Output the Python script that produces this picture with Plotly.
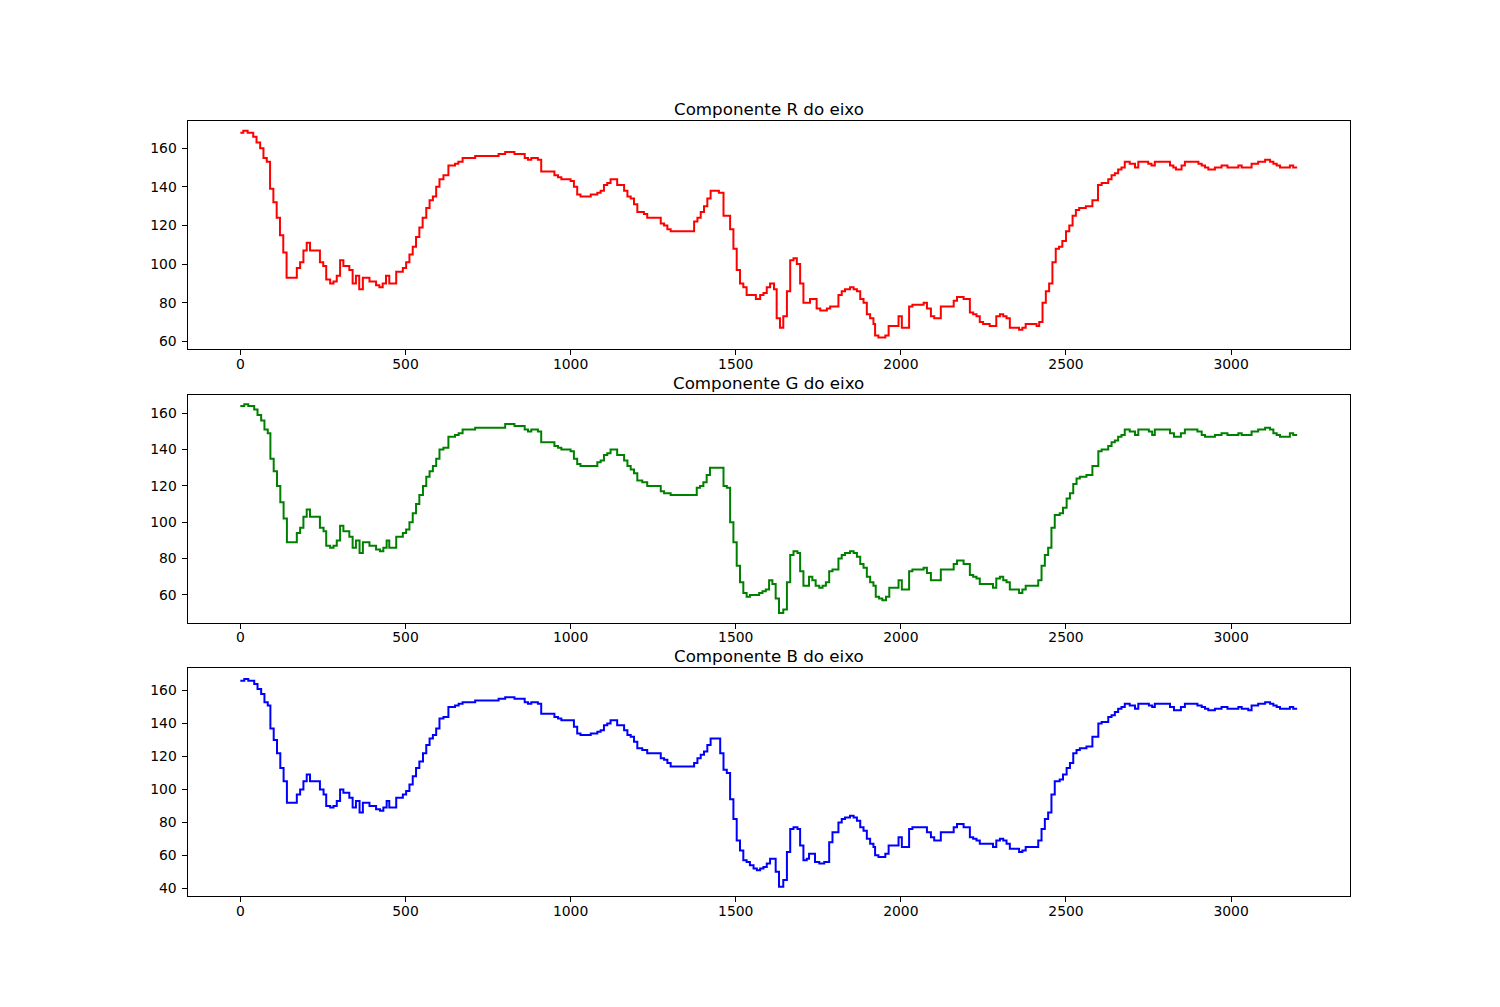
import plotly.graph_objects as go

# step break points (x where each level starts)
x_r = [0, 9, 22, 39, 49, 60, 70, 80, 90, 100, 110, 120, 130, 140, 171, 181, 191, 201, 211, 241,
       251, 260, 272, 282, 292, 302, 312, 330, 340, 350, 360, 371, 391, 411, 421, 431, 441, 451, 472, 492,
       502, 512, 522, 532, 542, 552, 563, 573, 583, 593, 603, 615, 630, 650, 660, 673, 711, 782, 802, 830,
       861, 871, 881, 901, 911, 951, 962, 972, 1000, 1010, 1020, 1030, 1061, 1081, 1091, 1101, 1111, 1121, 1141, 1162,
       1172, 1182, 1192, 1202, 1222, 1232, 1273, 1283, 1293, 1303, 1374, 1384, 1394, 1404, 1414, 1424, 1449, 1463, 1483, 1493,
       1503, 1513, 1523, 1533, 1561, 1574, 1584, 1594, 1604, 1616, 1624, 1634, 1644, 1655, 1665, 1675, 1685, 1695, 1705, 1725,
       1745, 1756, 1776, 1786, 1811, 1821, 1831, 1846, 1857, 1867, 1877, 1887, 1897, 1907, 1917, 1922, 1932, 1953, 1963, 1993,
       2003, 2025, 2035, 2069, 2079, 2091, 2101, 2121, 2160, 2170, 2190, 2209, 2219, 2229, 2239, 2249, 2269, 2289, 2300, 2310,
       2320, 2330, 2358, 2368, 2378, 2411, 2419, 2429, 2439, 2449, 2459, 2469, 2479, 2489, 2500, 2510, 2520, 2530, 2540, 2560,
       2580, 2597, 2608, 2628, 2638, 2648, 2658, 2668, 2678, 2693, 2709, 2719, 2749, 2759, 2769, 2815, 2825, 2833, 2850, 2860,
       2901, 2911, 2921, 2931, 2951, 2971, 2989, 3022, 3032, 3062, 3082, 3103, 3118, 3128, 3138, 3148, 3178, 3188, 3200]
r_vals = [168, 169, 168, 166, 163, 160, 155, 153, 139, 132, 124, 115, 106, 93, 98, 101, 107, 111, 107, 101,
          99, 92, 90, 91, 94, 102, 99, 97, 90, 94, 87, 93, 91, 89, 88, 90, 94, 90, 96, 98,
          101, 105, 109, 114, 119, 124, 129, 133, 135, 140, 144, 146, 151, 152, 153, 155, 156, 157, 158, 157,
          155, 154, 155, 154, 148, 146, 145, 144, 143, 140, 136, 135, 136, 137, 138, 141, 142, 144, 141, 138,
          135, 134, 131, 127, 126, 124, 121, 120, 118, 117, 122, 124, 127, 130, 134, 138, 137, 125, 118, 108,
          97, 90, 88, 84, 82, 84, 85, 88, 90, 87, 72, 67, 73, 86, 102, 103, 100, 90, 80, 82,
          77, 76, 77, 78, 84, 86, 87, 88, 87, 86, 82, 80, 74, 72, 69, 63, 62, 63, 68, 73,
          67, 78, 79, 80, 77, 73, 72, 78, 81, 83, 82, 75, 74, 73, 70, 69, 68, 73, 74, 73,
          72, 67, 66, 67, 69, 68, 70, 80, 86, 90, 101, 108, 109, 112, 117, 120, 125, 128, 129, 130,
          133, 141, 142, 144, 146, 147, 149, 150, 153, 152, 150, 153, 152, 151, 153, 151, 150, 149, 151, 153,
          152, 151, 150, 149, 150, 151, 150, 151, 150, 152, 153, 154, 153, 152, 151, 150, 151, 150, 150]

x_g = [0, 12, 24, 42, 52, 63, 73, 83, 91, 101, 111, 121, 131, 141, 171, 181, 191, 201, 211, 241,
       252, 260, 272, 282, 292, 302, 312, 330, 340, 350, 361, 371, 391, 411, 423, 433, 443, 451, 472, 492,
       502, 512, 522, 532, 542, 553, 563, 573, 583, 593, 603, 615, 630, 650, 661, 673, 711, 782, 802, 830,
       861, 871, 881, 901, 911, 951, 962, 972, 1000, 1010, 1020, 1030, 1061, 1081, 1091, 1101, 1111, 1121, 1141, 1162,
       1172, 1182, 1192, 1202, 1217, 1232, 1273, 1283, 1303, 1382, 1392, 1402, 1412, 1422, 1463, 1473, 1483, 1493, 1503, 1513,
       1523, 1533, 1543, 1571, 1581, 1591, 1601, 1611, 1621, 1631, 1644, 1655, 1665, 1675, 1687, 1695, 1705, 1722, 1732, 1742,
       1753, 1763, 1773, 1783, 1793, 1811, 1821, 1831, 1846, 1857, 1867, 1877, 1887, 1897, 1907, 1917, 1924, 1934, 1944, 1955,
       1965, 1993, 2003, 2025, 2035, 2069, 2079, 2091, 2121, 2160, 2170, 2190, 2209, 2219, 2229, 2239, 2279, 2289, 2300, 2310,
       2320, 2330, 2358, 2368, 2378, 2416, 2426, 2436, 2446, 2456, 2466, 2481, 2491, 2502, 2512, 2522, 2532, 2542, 2562, 2580,
       2598, 2608, 2628, 2638, 2648, 2658, 2668, 2678, 2693, 2709, 2719, 2751, 2761, 2769, 2815, 2827, 2848, 2860, 2898, 2911,
       2921, 2951, 2971, 2989, 3022, 3032, 3062, 3082, 3103, 3118, 3128, 3138, 3148, 3178, 3188, 3200]
g_vals = [164, 165, 164, 162, 159, 156, 151, 149, 135, 128, 120, 111, 102, 89, 94, 97, 103, 107, 103, 97,
          95, 87, 86, 87, 90, 98, 95, 92, 86, 90, 83, 89, 87, 85, 84, 86, 90, 86, 92, 94,
          96, 100, 105, 110, 115, 120, 125, 128, 131, 135, 140, 141, 147, 148, 149, 151, 152, 152, 154, 153,
          151, 150, 151, 150, 144, 142, 141, 140, 139, 135, 132, 131, 131, 133, 134, 137, 138, 140, 137, 134,
          131, 129, 127, 123, 122, 120, 117, 116, 115, 119, 120, 122, 126, 130, 120, 119, 100, 89, 76, 67,
          61, 59, 60, 61, 62, 63, 68, 66, 58, 50, 52, 67, 82, 84, 83, 73, 65, 70, 68, 65,
          64, 65, 67, 73, 74, 80, 82, 83, 84, 83, 81, 77, 75, 70, 67, 65, 59, 58, 57, 59,
          64, 68, 63, 73, 74, 75, 72, 68, 74, 77, 79, 77, 71, 70, 69, 66, 64, 69, 70, 68,
          67, 63, 61, 63, 65, 68, 76, 82, 86, 97, 104, 105, 108, 113, 116, 121, 124, 125, 126, 131,
          139, 140, 142, 144, 145, 147, 148, 151, 150, 148, 151, 150, 148, 151, 149, 147, 149, 151, 150, 148,
          147, 148, 149, 148, 149, 148, 150, 151, 152, 151, 149, 148, 147, 149, 148, 148]

x_b = [0, 12, 24, 42, 52, 63, 73, 83, 91, 101, 111, 121, 131, 141, 171, 181, 191, 201, 211, 241,
       252, 260, 272, 282, 292, 302, 312, 330, 340, 350, 361, 371, 391, 411, 423, 433, 443, 451, 472, 492,
       502, 512, 522, 532, 542, 553, 563, 573, 583, 593, 603, 615, 630, 650, 661, 673, 711, 782, 802, 830,
       861, 871, 881, 901, 911, 951, 962, 972, 1000, 1010, 1020, 1030, 1061, 1081, 1091, 1101, 1111, 1121, 1141, 1162,
       1172, 1182, 1192, 1202, 1217, 1232, 1273, 1283, 1293, 1303, 1374, 1384, 1394, 1404, 1414, 1424, 1453, 1463, 1473, 1483,
       1493, 1503, 1513, 1523, 1533, 1543, 1554, 1564, 1574, 1584, 1594, 1604, 1621, 1631, 1644, 1655, 1665, 1675, 1687, 1695,
       1705, 1715, 1722, 1740, 1753, 1768, 1783, 1793, 1811, 1821, 1831, 1846, 1857, 1867, 1877, 1887, 1897, 1907, 1917, 1922,
       1932, 1953, 1963, 1993, 2003, 2025, 2035, 2069, 2079, 2091, 2101, 2121, 2160, 2170, 2190, 2209, 2219, 2229, 2239, 2279,
       2289, 2300, 2310, 2320, 2330, 2358, 2368, 2378, 2416, 2426, 2436, 2446, 2456, 2466, 2481, 2491, 2502, 2512, 2522, 2532,
       2542, 2562, 2580, 2598, 2608, 2628, 2638, 2648, 2658, 2668, 2678, 2693, 2709, 2719, 2751, 2761, 2769, 2815, 2827, 2848,
       2860, 2898, 2911, 2921, 2931, 2951, 2971, 2989, 3022, 3032, 3052, 3062, 3082, 3103, 3118, 3128, 3138, 3148, 3178, 3188,
       3200]
b_vals = [166, 167, 166, 164, 161, 158, 153, 151, 137, 130, 122, 113, 105, 92, 97, 100, 105, 109, 105, 100,
          97, 90, 89, 90, 93, 100, 98, 95, 89, 93, 86, 92, 90, 88, 87, 89, 93, 89, 95, 97,
          99, 103, 108, 113, 117, 122, 127, 131, 133, 137, 143, 144, 150, 151, 152, 153, 154, 155, 156, 155,
          153, 152, 153, 152, 146, 144, 143, 142, 142, 138, 134, 133, 134, 135, 136, 139, 140, 142, 139, 136,
          133, 132, 129, 125, 124, 122, 119, 118, 116, 114, 116, 119, 121, 123, 127, 131, 122, 112, 110, 94,
          82, 69, 63, 57, 56, 54, 52, 51, 52, 53, 55, 58, 50, 41, 45, 62, 76, 77, 76, 66,
          57, 58, 61, 56, 55, 56, 68, 74, 80, 82, 83, 84, 83, 81, 77, 75, 70, 67, 65, 60,
          59, 61, 66, 71, 65, 76, 77, 77, 74, 71, 69, 74, 77, 79, 77, 71, 70, 69, 67, 65,
          69, 70, 69, 67, 64, 62, 63, 65, 69, 76, 82, 86, 97, 105, 106, 109, 113, 116, 122, 124,
          125, 126, 132, 140, 141, 144, 145, 147, 149, 150, 152, 151, 149, 152, 151, 150, 152, 150, 148, 150,
          152, 151, 150, 149, 148, 149, 150, 149, 150, 149, 148, 151, 152, 153, 152, 151, 150, 149, 150, 149,
          149]

titles = ["Componente R do eixo", "Componente G do eixo", "Componente B do eixo"]
colors = ["#ff0000", "#008000", "#0000ff"]
x_ticks = [0, 500, 1000, 1500, 2000, 2500, 3000]

# page body has an 8px margin, so the figure box is 1492x999 starting at (8, 8);
# domains below put the axes where matplotlib's default grid puts them
panels = [
    (x_r, r_vals, [0.65876, 0.88709], [56.1, 174.2]),
    (x_g, g_vals, [0.38478, 0.61311], [44.75, 170.3]),
    (x_b, b_vals, [0.11091, 0.33914], [35.2, 173.6]),
]
X_DOMAIN = [0.12031, 0.89946]

FONT = "DejaVu Sans"
fig = go.Figure()
layout = dict(
    width=1492, height=999,
    margin=dict(l=0, r=0, t=0, b=0),
    paper_bgcolor="white", plot_bgcolor="white",
    showlegend=False,
    font=dict(family=FONT, size=14, color="black"),
)
annotations = []
for i, (xs, ys, dom, yr) in enumerate(panels):
    n = "" if i == 0 else str(i + 1)
    fig.add_trace(go.Scatter(
        x=xs, y=ys, mode="lines", line_shape="hv",
        line=dict(color=colors[i], width=2),
        xaxis="x" + n, yaxis="y" + n,
        hoverinfo="skip",
    ))
    axis_style = dict(
        showline=True, mirror=True, linecolor="black", linewidth=1,
        ticks="outside", ticklen=5, tickwidth=1, tickcolor="black",
        showgrid=False, zeroline=False,
        tickfont=dict(family=FONT, size=13.9, color="black"),
    )
    layout["xaxis" + n] = dict(
        axis_style, domain=X_DOMAIN, anchor="y" + n,
        range=[-160, 3360], tickvals=x_ticks, ticklabelstandoff=-3,
    )
    layout["yaxis" + n] = dict(
        axis_style, domain=dom, anchor="x" + n,
        range=yr, dtick=20, ticklabelstandoff=2,
    )
    annotations.append(dict(
        text=titles[i], xref="paper", yref="paper",
        x=sum(X_DOMAIN) / 2, y=dom[1], xanchor="center", yanchor="bottom",
        yshift=1, borderpad=0, showarrow=False,
        font=dict(family=FONT, size=16.7, color="black"),
    ))
layout["annotations"] = annotations
fig.update_layout(**layout)

fig.write_html("out.html")
